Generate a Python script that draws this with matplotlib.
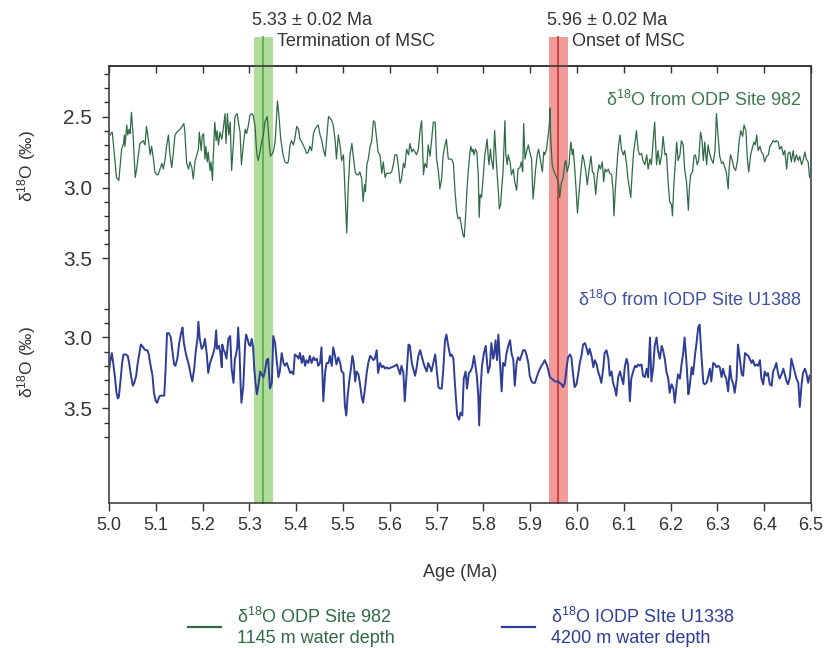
import numpy as np
from matplotlib import pyplot as plt
from matplotlib.lines import Line2D
import matplotlib.transforms as mtransforms

plt.rcParams['font.family'] = ['Liberation Sans', 'DejaVu Sans']
plt.rcParams['mathtext.fontset'] = 'custom'
plt.rcParams['mathtext.rm'] = 'Liberation Sans'
plt.rcParams['mathtext.default'] = 'regular'

# d18O record from ODP Site 982 (upper curve), age in Ma
age_982 = [
    5.002, 5.007, 5.016, 5.021, 5.027, 5.031, 5.033, 5.034, 5.038, 5.040,
    5.043, 5.045, 5.048, 5.052, 5.056, 5.059, 5.063, 5.066, 5.073, 5.077,
    5.080, 5.084, 5.088, 5.091, 5.095, 5.098, 5.102, 5.105, 5.109, 5.113,
    5.116, 5.120, 5.123, 5.127, 5.130, 5.134, 5.137, 5.141, 5.145, 5.152,
    5.160, 5.162, 5.166, 5.170, 5.173, 5.177, 5.180, 5.184, 5.187, 5.191,
    5.193, 5.197, 5.199, 5.202, 5.205, 5.207, 5.210, 5.212, 5.216, 5.218,
    5.221, 5.223, 5.226, 5.229, 5.231, 5.234, 5.237, 5.241, 5.244, 5.248,
    5.250, 5.253, 5.256, 5.259, 5.262, 5.266, 5.269, 5.271, 5.274, 5.276,
    5.280, 5.283, 5.287, 5.291, 5.294, 5.298, 5.301, 5.305, 5.308, 5.312,
    5.316, 5.319, 5.323, 5.326, 5.330, 5.333, 5.338, 5.343, 5.345, 5.351,
    5.355, 5.358, 5.360, 5.363, 5.367, 5.372, 5.376, 5.380, 5.383, 5.387,
    5.390, 5.394, 5.397, 5.401, 5.405, 5.408, 5.412, 5.419, 5.422, 5.426,
    5.429, 5.433, 5.437, 5.440, 5.444, 5.447, 5.451, 5.454, 5.458, 5.462,
    5.465, 5.469, 5.472, 5.476, 5.479, 5.483, 5.486, 5.490, 5.494, 5.497,
    5.501, 5.504, 5.508, 5.511, 5.515, 5.519, 5.522, 5.526, 5.529, 5.533,
    5.536, 5.540, 5.543, 5.546, 5.548, 5.551, 5.554, 5.558, 5.561, 5.565,
    5.568, 5.572, 5.575, 5.579, 5.583, 5.586, 5.590, 5.593, 5.597, 5.600,
    5.604, 5.608, 5.611, 5.615, 5.618, 5.622, 5.625, 5.629, 5.632, 5.636,
    5.640, 5.643, 5.647, 5.650, 5.654, 5.657, 5.661, 5.665, 5.668, 5.672,
    5.675, 5.679, 5.682, 5.686, 5.689, 5.693, 5.697, 5.700, 5.704, 5.707,
    5.711, 5.714, 5.718, 5.721, 5.725, 5.732, 5.736, 5.739, 5.743, 5.746,
    5.750, 5.753, 5.757, 5.759, 5.762, 5.765, 5.767, 5.771, 5.773, 5.776,
    5.778, 5.780, 5.783, 5.786, 5.789, 5.791, 5.793, 5.796, 5.800, 5.803,
    5.805, 5.808, 5.810, 5.812, 5.815, 5.817, 5.821, 5.824, 5.828, 5.832,
    5.834, 5.837, 5.839, 5.842, 5.846, 5.848, 5.851, 5.853, 5.857, 5.860,
    5.864, 5.867, 5.871, 5.874, 5.878, 5.881, 5.884, 5.886, 5.889, 5.892,
    5.896, 5.899, 5.903, 5.906, 5.909, 5.911, 5.915, 5.918, 5.922, 5.926,
    5.929, 5.931, 5.935, 5.937, 5.941, 5.942, 5.944, 5.947, 5.951, 5.954,
    5.958, 5.961, 5.963, 5.967, 5.970, 5.974, 5.976, 5.979, 5.983, 5.985,
    5.987, 5.990, 5.992, 5.995, 5.998, 6.001, 6.005, 6.008, 6.012, 6.015,
    6.019, 6.022, 6.026, 6.030, 6.033, 6.036, 6.040, 6.043, 6.047, 6.050,
    6.054, 6.057, 6.060, 6.063, 6.067, 6.070, 6.074, 6.077, 6.079, 6.082,
    6.084, 6.087, 6.089, 6.092, 6.095, 6.099, 6.102, 6.106, 6.109, 6.113,
    6.115, 6.118, 6.121, 6.124, 6.127, 6.131, 6.134, 6.138, 6.141, 6.145,
    6.149, 6.152, 6.156, 6.159, 6.163, 6.166, 6.170, 6.173, 6.177, 6.181,
    6.184, 6.188, 6.191, 6.195, 6.198, 6.202, 6.204, 6.207, 6.209, 6.213,
    6.216, 6.220, 6.223, 6.227, 6.230, 6.234, 6.238, 6.240, 6.243, 6.247,
    6.250, 6.253, 6.257, 6.260, 6.264, 6.267, 6.270, 6.273, 6.277, 6.280,
    6.284, 6.287, 6.291, 6.295, 6.298, 6.302, 6.305, 6.309, 6.312, 6.316,
    6.319, 6.323, 6.325, 6.328, 6.332, 6.335, 6.339, 6.343, 6.347, 6.350,
    6.354, 6.357, 6.361, 6.364, 6.367, 6.371, 6.374, 6.378, 6.381, 6.384,
    6.387, 6.391, 6.394, 6.398, 6.401, 6.405, 6.409, 6.412, 6.416, 6.419,
    6.423, 6.426, 6.430, 6.433, 6.437, 6.441, 6.444, 6.448, 6.451, 6.455,
    6.458, 6.462, 6.465, 6.469, 6.473, 6.476, 6.480, 6.483, 6.487, 6.490,
    6.494, 6.497,
]
d18o_982 = [
    2.63, 2.61, 2.93, 2.95, 2.73, 2.69, 2.63, 2.71, 2.56, 2.63,
    2.59, 2.62, 2.47, 2.66, 2.93, 2.87, 2.77, 2.69, 2.67, 2.70,
    2.57, 2.66, 2.77, 2.71, 2.80, 2.89, 2.91, 2.91, 2.87, 2.83,
    2.87, 2.80, 2.71, 2.63, 2.76, 2.86, 2.77, 2.63, 2.61, 2.59,
    2.55, 2.61, 2.83, 2.87, 2.82, 2.86, 2.94, 2.81, 2.78, 2.73,
    2.61, 2.74, 2.64, 2.62, 2.80, 2.71, 2.82, 2.75, 2.88, 2.82,
    2.95, 2.77, 2.54, 2.67, 2.60, 2.70, 2.61, 2.66, 2.59, 2.48,
    2.69, 2.48, 2.63, 2.54, 2.88, 2.68, 2.51, 2.49, 2.48, 2.53,
    2.61, 2.84, 2.70, 2.59, 2.62, 2.56, 2.49, 2.48, 2.49, 2.57,
    2.77, 2.81, 2.74, 2.68, 2.63, 2.54, 2.50, 2.71, 2.78, 2.75,
    2.68, 2.51, 2.39, 2.49, 2.66, 2.77, 2.82, 2.83, 2.82, 2.70,
    2.67, 2.70, 2.66, 2.57, 2.59, 2.66, 2.68, 2.73, 2.76, 2.75,
    2.71, 2.74, 2.62, 2.59, 2.57, 2.56, 2.63, 2.66, 2.73, 2.78,
    2.66, 2.50, 2.51, 2.53, 2.56, 2.66, 2.80, 2.63, 2.71, 2.81,
    2.77, 3.01, 3.32, 3.01, 2.77, 2.69, 2.78, 2.89, 2.91, 2.91,
    2.89, 2.94, 3.10, 2.98, 3.03, 2.84, 2.80, 2.71, 2.68, 2.53,
    2.54, 2.66, 2.75, 2.77, 2.90, 2.82, 2.93, 2.90, 2.90, 2.90,
    2.89, 2.83, 2.77, 2.77, 2.84, 2.97, 2.94, 2.83, 2.86, 2.73,
    2.77, 2.69, 2.75, 2.73, 2.75, 2.77, 2.73, 2.59, 2.53, 2.91,
    2.83, 2.86, 2.70, 2.78, 2.68, 2.54, 2.54, 2.80, 2.89, 3.01,
    2.93, 2.77, 2.70, 2.66, 2.80, 2.80, 2.83, 3.01, 3.17, 3.22,
    3.21, 3.27, 3.34, 3.35, 3.20, 3.01, 2.91, 2.76, 2.71, 2.75,
    2.73, 2.77, 2.73, 2.75, 2.91, 3.21, 3.05, 3.07, 2.91, 2.77,
    2.73, 2.66, 2.77, 2.84, 2.73, 2.80, 2.87, 2.60, 2.84, 3.03,
    3.15, 3.12, 3.01, 2.89, 2.53, 2.77, 2.84, 2.77, 2.82, 2.91,
    2.87, 2.96, 3.02, 2.87, 2.86, 2.82, 2.89, 2.55, 2.80, 2.75,
    2.70, 2.75, 2.80, 3.08, 2.98, 2.89, 2.77, 2.73, 2.81, 2.89,
    2.75, 2.77, 2.73, 2.67, 2.56, 2.44, 2.66, 2.84, 2.89, 2.91,
    2.94, 2.98, 3.07, 2.96, 2.94, 2.83, 2.81, 2.89, 2.84, 2.74,
    2.68, 2.77, 2.73, 2.86, 3.01, 3.18, 3.01, 2.90, 2.77, 2.81,
    2.89, 2.98, 2.87, 2.78, 2.89, 2.90, 3.05, 2.93, 2.84, 2.87,
    2.82, 2.96, 2.87, 2.89, 2.87, 2.90, 2.91, 3.01, 3.20, 3.01,
    2.91, 2.77, 2.70, 2.63, 2.73, 2.77, 2.74, 2.84, 2.94, 3.03,
    3.07, 2.89, 2.75, 2.68, 2.60, 2.74, 2.77, 2.76, 2.81, 2.84,
    2.77, 2.87, 2.80, 2.84, 2.66, 2.54, 2.84, 2.74, 2.84, 2.77,
    2.64, 2.77, 2.76, 2.97, 3.10, 3.12, 3.20, 2.98, 2.88, 2.68,
    2.81, 2.77, 2.67, 2.70, 2.87, 2.96, 3.16, 3.01, 2.91, 2.89,
    2.78, 2.77, 2.84, 2.81, 2.61, 2.66, 2.81, 2.68, 2.84, 2.70,
    2.77, 2.80, 2.83, 2.74, 2.48, 2.66, 2.78, 2.83, 2.82, 2.86,
    2.89, 3.01, 2.87, 2.77, 2.81, 2.86, 2.88, 2.81, 2.66, 2.60,
    2.64, 2.56, 2.60, 2.80, 2.89, 2.77, 2.73, 2.68, 2.70, 2.63,
    2.74, 2.71, 2.75, 2.77, 2.82, 2.78, 2.77, 2.71, 2.69, 2.67,
    2.68, 2.67, 2.68, 2.73, 2.71, 2.77, 2.74, 2.87, 2.76, 2.75,
    2.82, 2.74, 2.82, 2.77, 2.81, 2.78, 2.84, 2.81, 2.75, 2.80,
    2.82, 2.93,
]

# d18O record from IODP Site U1388 (lower curve)
age_u1388 = [
    5.000, 5.002, 5.006, 5.009, 5.013, 5.016, 5.019, 5.021, 5.025, 5.028,
    5.031, 5.036, 5.040, 5.043, 5.047, 5.051, 5.054, 5.058, 5.061, 5.065,
    5.068, 5.071, 5.075, 5.078, 5.082, 5.085, 5.089, 5.093, 5.096, 5.100,
    5.103, 5.107, 5.110, 5.114, 5.118, 5.121, 5.124, 5.128, 5.132, 5.135,
    5.139, 5.142, 5.146, 5.150, 5.154, 5.157, 5.160, 5.164, 5.167, 5.171,
    5.175, 5.178, 5.182, 5.185, 5.189, 5.191, 5.194, 5.198, 5.202, 5.205,
    5.209, 5.212, 5.216, 5.219, 5.223, 5.226, 5.229, 5.231, 5.235, 5.238,
    5.241, 5.242, 5.244, 5.248, 5.251, 5.255, 5.259, 5.262, 5.266, 5.269,
    5.271, 5.274, 5.276, 5.279, 5.281, 5.283, 5.287, 5.291, 5.293, 5.296,
    5.299, 5.302, 5.305, 5.308, 5.310, 5.313, 5.316, 5.319, 5.323, 5.326,
    5.330, 5.333, 5.337, 5.340, 5.344, 5.348, 5.351, 5.355, 5.358, 5.362,
    5.365, 5.369, 5.373, 5.376, 5.380, 5.383, 5.387, 5.390, 5.394, 5.397,
    5.401, 5.405, 5.408, 5.412, 5.415, 5.419, 5.422, 5.426, 5.429, 5.433,
    5.437, 5.440, 5.444, 5.447, 5.451, 5.454, 5.458, 5.462, 5.465, 5.469,
    5.472, 5.476, 5.479, 5.483, 5.486, 5.490, 5.494, 5.497, 5.501, 5.504,
    5.507, 5.510, 5.514, 5.517, 5.520, 5.523, 5.526, 5.529, 5.533, 5.536,
    5.540, 5.543, 5.547, 5.551, 5.554, 5.558, 5.561, 5.565, 5.568, 5.572,
    5.575, 5.579, 5.583, 5.586, 5.590, 5.593, 5.597, 5.604, 5.611, 5.615,
    5.618, 5.622, 5.625, 5.629, 5.632, 5.636, 5.640, 5.643, 5.647, 5.650,
    5.654, 5.657, 5.661, 5.665, 5.668, 5.672, 5.675, 5.679, 5.682, 5.686,
    5.689, 5.693, 5.697, 5.700, 5.704, 5.707, 5.711, 5.714, 5.718, 5.721,
    5.725, 5.729, 5.732, 5.736, 5.739, 5.741, 5.744, 5.748, 5.751, 5.755,
    5.758, 5.762, 5.765, 5.769, 5.772, 5.776, 5.780, 5.783, 5.786, 5.789,
    5.791, 5.794, 5.797, 5.801, 5.805, 5.808, 5.810, 5.814, 5.817, 5.821,
    5.823, 5.826, 5.829, 5.832, 5.835, 5.839, 5.842, 5.846, 5.849, 5.853,
    5.857, 5.860, 5.864, 5.867, 5.871, 5.874, 5.878, 5.881, 5.885, 5.889,
    5.892, 5.896, 5.899, 5.903, 5.906, 5.910, 5.913, 5.917, 5.921, 5.924,
    5.928, 5.931, 5.935, 5.938, 5.942, 5.946, 5.953, 5.960, 5.963, 5.967,
    5.970, 5.974, 5.978, 5.981, 5.985, 5.988, 5.992, 5.995, 5.999, 6.003,
    6.006, 6.010, 6.013, 6.017, 6.020, 6.024, 6.027, 6.031, 6.035, 6.038,
    6.042, 6.045, 6.049, 6.052, 6.056, 6.059, 6.063, 6.067, 6.070, 6.074,
    6.077, 6.081, 6.084, 6.088, 6.092, 6.095, 6.099, 6.102, 6.106, 6.109,
    6.113, 6.116, 6.120, 6.124, 6.127, 6.131, 6.134, 6.138, 6.141, 6.145,
    6.149, 6.152, 6.156, 6.159, 6.163, 6.166, 6.170, 6.173, 6.177, 6.181,
    6.184, 6.188, 6.191, 6.195, 6.198, 6.202, 6.206, 6.209, 6.213, 6.216,
    6.220, 6.223, 6.227, 6.230, 6.234, 6.238, 6.241, 6.245, 6.248, 6.252,
    6.255, 6.259, 6.262, 6.266, 6.270, 6.273, 6.277, 6.280, 6.284, 6.287,
    6.291, 6.295, 6.298, 6.302, 6.305, 6.309, 6.312, 6.316, 6.319, 6.323,
    6.327, 6.330, 6.334, 6.337, 6.341, 6.344, 6.348, 6.352, 6.355, 6.359,
    6.362, 6.366, 6.369, 6.373, 6.376, 6.380, 6.384, 6.387, 6.391, 6.394,
    6.398, 6.401, 6.405, 6.408, 6.412, 6.416, 6.419, 6.423, 6.426, 6.430,
    6.433, 6.437, 6.441, 6.444, 6.448, 6.451, 6.455, 6.458, 6.462, 6.465,
    6.469, 6.473, 6.476, 6.480, 6.483, 6.487, 6.490, 6.494, 6.497,
]
d18o_u1388 = [
    3.24, 3.18, 3.11, 3.18, 3.29, 3.39, 3.43, 3.42, 3.29, 3.18,
    3.12, 3.12, 3.13, 3.18, 3.27, 3.34, 3.32, 3.27, 3.19, 3.11,
    3.05, 3.06, 3.08, 3.09, 3.09, 3.12, 3.20, 3.27, 3.39, 3.45,
    3.46, 3.42, 3.41, 3.41, 3.41, 3.22, 2.97, 2.97, 3.00, 3.08,
    3.19, 3.20, 3.15, 3.04, 2.97, 2.93, 3.04, 3.11, 3.15, 3.20,
    3.27, 3.31, 3.22, 3.11, 3.01, 2.89, 3.01, 3.08, 3.06, 3.01,
    3.12, 3.25, 3.18, 3.15, 3.11, 3.07, 2.95, 3.08, 3.06, 3.11,
    3.21, 3.05, 3.08, 3.11, 3.15, 3.01, 2.99, 3.22, 3.32, 3.15,
    3.13, 3.07, 2.93, 3.11, 3.32, 3.46, 3.34, 3.04, 2.98, 3.01,
    3.05, 3.06, 3.01, 3.07, 3.20, 3.32, 3.40, 3.34, 3.24, 3.26,
    3.28, 3.24, 3.16, 3.15, 3.36, 3.32, 2.99, 3.04, 3.15, 3.28,
    3.24, 3.11, 3.18, 3.20, 3.18, 3.21, 3.25, 3.24, 3.26, 3.12,
    3.13, 3.15, 3.11, 3.18, 3.13, 3.20, 3.16, 3.18, 3.13, 3.18,
    3.14, 3.16, 3.15, 3.20, 3.18, 3.07, 3.45, 3.24, 3.18, 3.18,
    3.13, 3.20, 3.07, 3.13, 3.19, 3.14, 3.18, 3.24, 3.25, 3.48,
    3.55, 3.41, 3.29, 3.22, 3.13, 3.18, 3.31, 3.24, 3.26, 3.32,
    3.42, 3.46, 3.36, 3.24, 3.18, 3.13, 3.14, 3.16, 3.15, 3.09,
    3.25, 3.18, 3.21, 3.20, 3.22, 3.21, 3.22, 3.21, 3.20, 3.19,
    3.22, 3.26, 3.20, 3.25, 3.45, 3.25, 3.05, 3.06, 3.18, 3.22,
    3.27, 3.22, 3.13, 3.09, 3.13, 3.18, 3.21, 3.24, 3.18, 3.21,
    3.24, 3.18, 3.12, 3.22, 3.35, 3.36, 3.36, 3.24, 3.02, 2.98,
    3.06, 3.13, 3.12, 3.15, 3.32, 3.41, 3.55, 3.58, 3.53, 3.55,
    3.29, 3.24, 3.36, 3.25, 3.24, 3.21, 3.13, 3.20, 3.27, 3.41,
    3.62, 3.36, 3.20, 3.11, 3.06, 3.18, 3.25, 3.20, 3.04, 3.15,
    3.12, 3.02, 3.16, 2.98, 3.15, 3.38, 3.18, 3.20, 3.12, 3.06,
    3.02, 3.11, 3.16, 3.34, 3.18, 3.14, 3.16, 3.13, 3.09, 3.09,
    3.12, 3.18, 3.27, 3.31, 3.32, 3.32, 3.29, 3.25, 3.22, 3.20,
    3.18, 3.16, 3.19, 3.22, 3.28, 3.29, 3.31, 3.31, 3.32, 3.33,
    3.35, 3.32, 3.21, 3.14, 3.12, 3.14, 3.27, 3.35, 3.33, 3.25,
    3.18, 3.12, 3.05, 3.04, 3.07, 3.12, 3.08, 3.13, 3.21, 3.16,
    3.19, 3.24, 3.28, 3.32, 3.22, 3.11, 3.09, 3.15, 3.27, 3.24,
    3.32, 3.36, 3.41, 3.28, 3.24, 3.28, 3.33, 3.21, 3.15, 3.19,
    3.45, 3.29, 3.24, 3.20, 3.21, 3.19, 3.20, 3.19, 3.27, 3.28,
    3.22, 3.28, 3.00, 3.31, 3.21, 3.06, 3.00, 3.09, 3.15, 3.06,
    3.09, 3.16, 3.24, 3.29, 3.39, 3.33, 3.36, 3.46, 3.33, 3.26,
    3.29, 3.20, 3.11, 3.00, 3.18, 3.40, 3.34, 3.21, 3.26, 3.13,
    3.05, 2.93, 2.91, 3.13, 3.32, 3.33, 3.32, 3.28, 3.22, 3.31,
    3.18, 3.19, 3.21, 3.20, 3.21, 3.28, 3.22, 3.27, 3.29, 3.38,
    3.20, 3.29, 3.33, 3.39, 3.29, 3.05, 3.15, 3.26, 3.27, 3.11,
    3.12, 3.13, 3.15, 3.18, 3.16, 3.20, 3.19, 3.20, 3.16, 3.29,
    3.33, 3.24, 3.27, 3.25, 3.33, 3.34, 3.24, 3.21, 3.18, 3.26,
    3.29, 3.26, 3.22, 3.26, 3.31, 3.33, 3.28, 3.15, 3.20, 3.24,
    3.29, 3.32, 3.49, 3.33, 3.25, 3.22, 3.25, 3.32, 3.27,
]

# Messinian Salinity Crisis boundaries (Ma) and their uncertainty
msc_ages = [5.33, 5.96]
msc_err = 0.02
msc_names = ['Termination of MSC', 'Onset of MSC']

x_ticks = np.round(np.arange(5.0, 6.51, 0.1), 1)

# the lower record is drawn on the same axes, shifted down by this many units
offset = 1.056

green = '#2f6b47'
blue = '#2e3d96'
text_dark = '#333333'
d18o = r'δ$^{18}$O'

fig = plt.figure(figsize=(8.34, 6.48), dpi=100)
ax = fig.add_axes([0.1307, 0.2238, 0.8417, 0.6744])

# MSC bands, reaching a bit above the frame
band_styles = [('#a6d98f', '#5cae4a'), ('#f09090', '#d23a3a')]
for age, (fill_c, line_c) in zip(msc_ages, band_styles):
    ax.axvspan(age - msc_err, age + msc_err, ymin=0, ymax=1.066,
               color=fill_c, alpha=0.9, lw=0, clip_on=False, zorder=1)
    ax.axvline(age, ymin=0, ymax=1.066, color=line_c, lw=1.3,
               clip_on=False, zorder=1.5)

ax.plot(age_982, d18o_982, color=green, lw=0.9, zorder=3)
ax.plot(age_u1388, np.array(d18o_u1388) + offset, color=blue, lw=1.4, zorder=3)

ax.set_xlim(5.0, 6.5)
ax.set_ylim(5.222, 2.144)

# x axis
ax.set_xticks(x_ticks)
ax.set_xticklabels(['%.1f' % t for t in x_ticks])
ax.tick_params(axis='x', direction='out', length=6, width=1, pad=4,
               labelsize=13, colors=text_dark, top=False)
ax.set_xlabel('Age (Ma)', fontsize=13, color=text_dark)
ax.xaxis.set_label_coords(0.5, -0.14)

top = ax.secondary_xaxis('top')
top.set_xticks(x_ticks)
top.tick_params(axis='x', direction='in', length=5, width=1,
                labeltop=False, colors=text_dark)

# y axis: two stacked scales
major_y = [2.5, 3.0, 3.5, 3.0 + offset, 3.5 + offset]
ax.set_yticks(major_y)
ax.set_yticklabels(['2.5', '3.0', '3.5', '3.0', '3.5'])
minor_y = list(np.arange(2.2, 3.55, 0.1)) + list(np.arange(2.8, 3.75, 0.1) + offset)
ax.set_yticks(minor_y, minor=True)
ax.tick_params(axis='y', which='major', direction='out', length=5, width=1,
               pad=7, labelsize=15, colors=text_dark, right=False)
ax.tick_params(axis='y', which='minor', direction='out', length=3.5, width=1,
               right=False, colors=text_dark)

for s in ax.spines.values():
    s.set_color(text_dark)
    s.set_linewidth(1.1)
top.spines['top'].set_color(text_dark)
top.spines['top'].set_linewidth(1.1)

fig.text(27 / 834, 1 - 166 / 648, d18o + ' (‰)', rotation=90, ha='center',
         va='center', fontsize=12.5, color=text_dark)
fig.text(27 / 834, 1 - 362 / 648, d18o + ' (‰)', rotation=90, ha='center',
         va='center', fontsize=12.5, color=text_dark)

# curve labels
ax.text(0.987, 0.922, d18o + ' from ODP Site 982', transform=ax.transAxes,
        ha='right', va='center', fontsize=13, color='#3d7a50')
ax.text(0.987, 0.4645, d18o + ' from IODP Site U1388', transform=ax.transAxes,
        ha='right', va='center', fontsize=13, color='#3f50a0')

# MSC annotations above the frame
trans = mtransforms.blended_transform_factory(ax.transData, ax.transAxes)
for age, name in zip(msc_ages, msc_names):
    ax.text(age - 0.024, 1.105, '%.2f ± %.2f Ma' % (age, msc_err), transform=trans,
            ha='left', va='center', fontsize=13, color=text_dark, clip_on=False)
    ax.text(age + 0.029, 1.055, name, transform=trans,
            ha='left', va='center', fontsize=13, color=text_dark, clip_on=False)

# legend below the chart, one entry each
h1 = Line2D([], [], color=green, lw=1.6)
h2 = Line2D([], [], color=blue, lw=1.6)
for h, lab, x0 in [(h1, d18o + ' ODP Site 982\n1145 m water depth', 188),
                   (h2, d18o + ' IODP SIte U1338\n4200 m water depth', 502)]:
    fig.legend(handles=[h], labels=[lab], loc='upper left',
               bbox_to_anchor=(x0 / 834, 1 - 607 / 648), frameon=False,
               borderpad=0, borderaxespad=0, handlelength=1.85,
               handletextpad=0.85, fontsize=13, labelcolor='linecolor',
               labelspacing=0.1)

fig.savefig('out.png', dpi=100)
